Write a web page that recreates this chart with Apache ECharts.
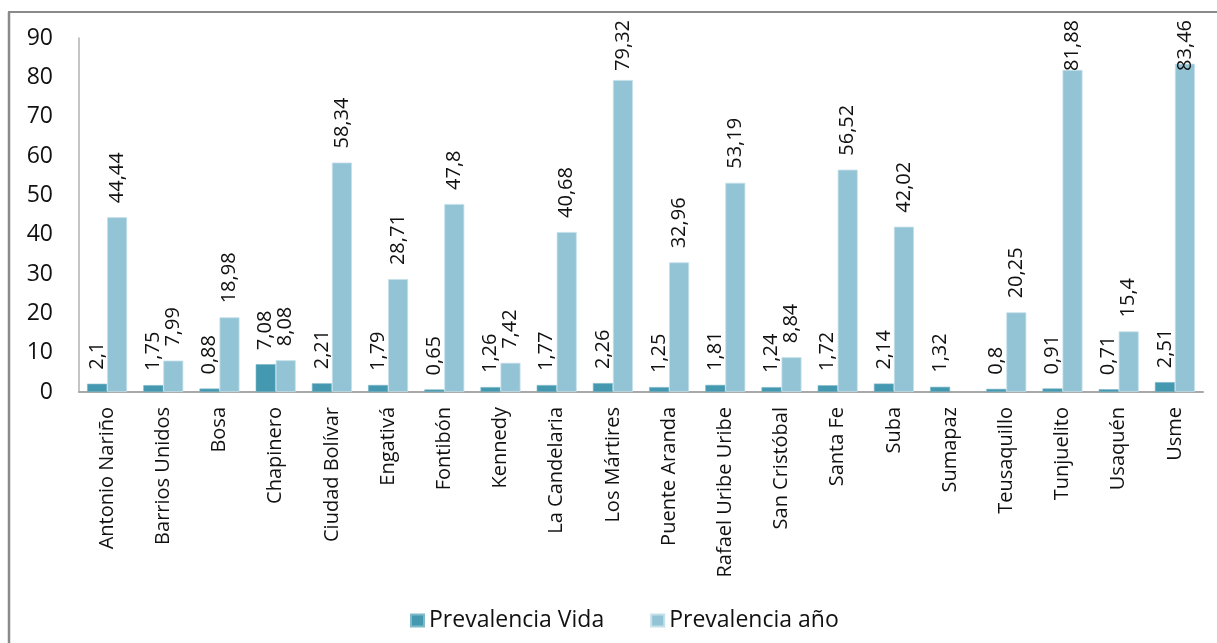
<!DOCTYPE html>
<html>
<head>
<meta charset="utf-8">
<script src="https://cdn.jsdelivr.net/npm/echarts@6/dist/echarts.min.js"></script>
<style>
  html, body { margin: 0; padding: 0; background: #fff; }
  #chart { width: 1217px; height: 643px; }
</style>
</head>
<body>
<div id="chart"></div>
<script>
// Localidades de Bogotá
const localidades = [
  'Antonio Nariño', 'Barrios Unidos', 'Bosa', 'Chapinero', 'Ciudad Bolívar',
  'Engativá', 'Fontibón', 'Kennedy', 'La Candelaria', 'Los Mártires',
  'Puente Aranda', 'Rafael Uribe Uribe', 'San Cristóbal', 'Santa Fe', 'Suba',
  'Sumapaz', 'Teusaquillo', 'Tunjuelito', 'Usaquén', 'Usme'
];

// Prevalencia de vida
const prevalenciaVida = [
  2.1, 1.75, 0.88, 7.08, 2.21, 1.79, 0.65, 1.26, 1.77, 2.26,
  1.25, 1.81, 1.24, 1.72, 2.14, 1.32, 0.8, 0.91, 0.71, 2.51
];

// Prevalencia año (Sumapaz sin dato)
const prevalenciaAno = [
  44.44, 7.99, 18.98, 8.08, 58.34, 28.71, 47.8, 7.42, 40.68, 79.32,
  32.96, 53.19, 8.84, 56.52, 42.02, null, 20.25, 81.88, 15.4, 83.46
];

const nombresSeries = ['Prevalencia Vida', 'Prevalencia año'];
const yTicks = { min: 0, max: 90, interval: 10 };

const FONT = '"Open Sans", "Noto Sans", sans-serif';
const LABEL_SIZE = 20;
const LABEL_GAP = 14;   // normal space between bar top and its value label
const TOPE = 20;        // value labels never rise above this y
const coma = v => String(v).replace('.', ',');

const chart = echarts.init(document.getElementById('chart'), null, { renderer: 'canvas' });

const etiquetaValor = {
  show: true,
  position: 'top',
  rotate: 90,
  align: 'left',
  verticalAlign: 'middle',
  distance: LABEL_GAP,
  fontFamily: FONT,
  fontSize: LABEL_SIZE,
  color: '#111',
  formatter: p => coma(p.value)
};

chart.setOption({
  animation: false,
  backgroundColor: '#ffffff',
  graphic: [
    { type: 'line', shape: { x1: 9, y1: 12, x2: 9, y2: 643 }, style: { stroke: '#8a8a8a', lineWidth: 2.5 }, silent: true },
    { type: 'line', shape: { x1: 8, y1: 12, x2: 1217, y2: 12 }, style: { stroke: '#8a8a8a', lineWidth: 2 }, silent: true }
  ],
  grid: { left: 79, right: 14, top: 38, bottom: 251, containLabel: false },
  legend: {
    data: nombresSeries,
    left: 405,
    top: 604,
    itemWidth: 13,
    itemHeight: 12,
    itemGap: 46,
    textStyle: { fontFamily: FONT, fontSize: 23, color: '#111' },
    icon: 'rect'
  },
  xAxis: {
    type: 'category',
    data: localidades,
    axisLine: { show: true, lineStyle: { color: '#a8a8a8', width: 2 } },
    axisTick: { show: false },
    axisLabel: {
      rotate: 90,
      interval: 0,
      margin: 15,
      fontFamily: FONT,
      fontSize: 20,
      color: '#111'
    }
  },
  yAxis: {
    type: 'value',
    min: yTicks.min,
    max: yTicks.max,
    interval: yTicks.interval,
    splitLine: { show: false },
    axisLine: { show: true, lineStyle: { color: '#b0b0b0', width: 1.5 } },
    axisTick: { show: false },
    axisLabel: { margin: 26, fontFamily: FONT, fontSize: 23, color: '#111' }
  },
  series: [
    {
      name: nombresSeries[0],
      type: 'bar',
      data: prevalenciaVida,
      barWidth: 20,
      barGap: '0%',
      barCategoryGap: '29%',
      itemStyle: { color: '#4499b0', borderColor: '#7fb9ca', borderWidth: 0.6 },
      label: etiquetaValor
    },
    {
      name: nombresSeries[1],
      type: 'bar',
      data: prevalenciaAno.map(v => (v === null ? '-' : v)),
      barWidth: 20,
      barGap: '0%',
      barCategoryGap: '29%',
      itemStyle: { color: '#93c4d5', borderColor: '#c4e0ea', borderWidth: 0.8 },
      label: etiquetaValor
    }
  ]
});

// Tall bars: pull the rotated value label down so it stays inside the chart top
const medir = document.createElement('canvas').getContext('2d');
medir.font = LABEL_SIZE + 'px ' + FONT;
function conEtiquetaAjustada(valores) {
  return valores.map((v, i) => {
    if (v === null) return '-';
    const yTop = chart.convertToPixel({ yAxisIndex: 0 }, v);
    const largo = medir.measureText(coma(v)).width;
    const libre = yTop - TOPE - largo;
    if (libre >= LABEL_GAP) return v;
    return { value: v, label: { distance: libre } };
  });
}
chart.setOption({
  series: [
    { data: conEtiquetaAjustada(prevalenciaVida) },
    { data: conEtiquetaAjustada(prevalenciaAno) }
  ]
});
</script>
</body>
</html>
